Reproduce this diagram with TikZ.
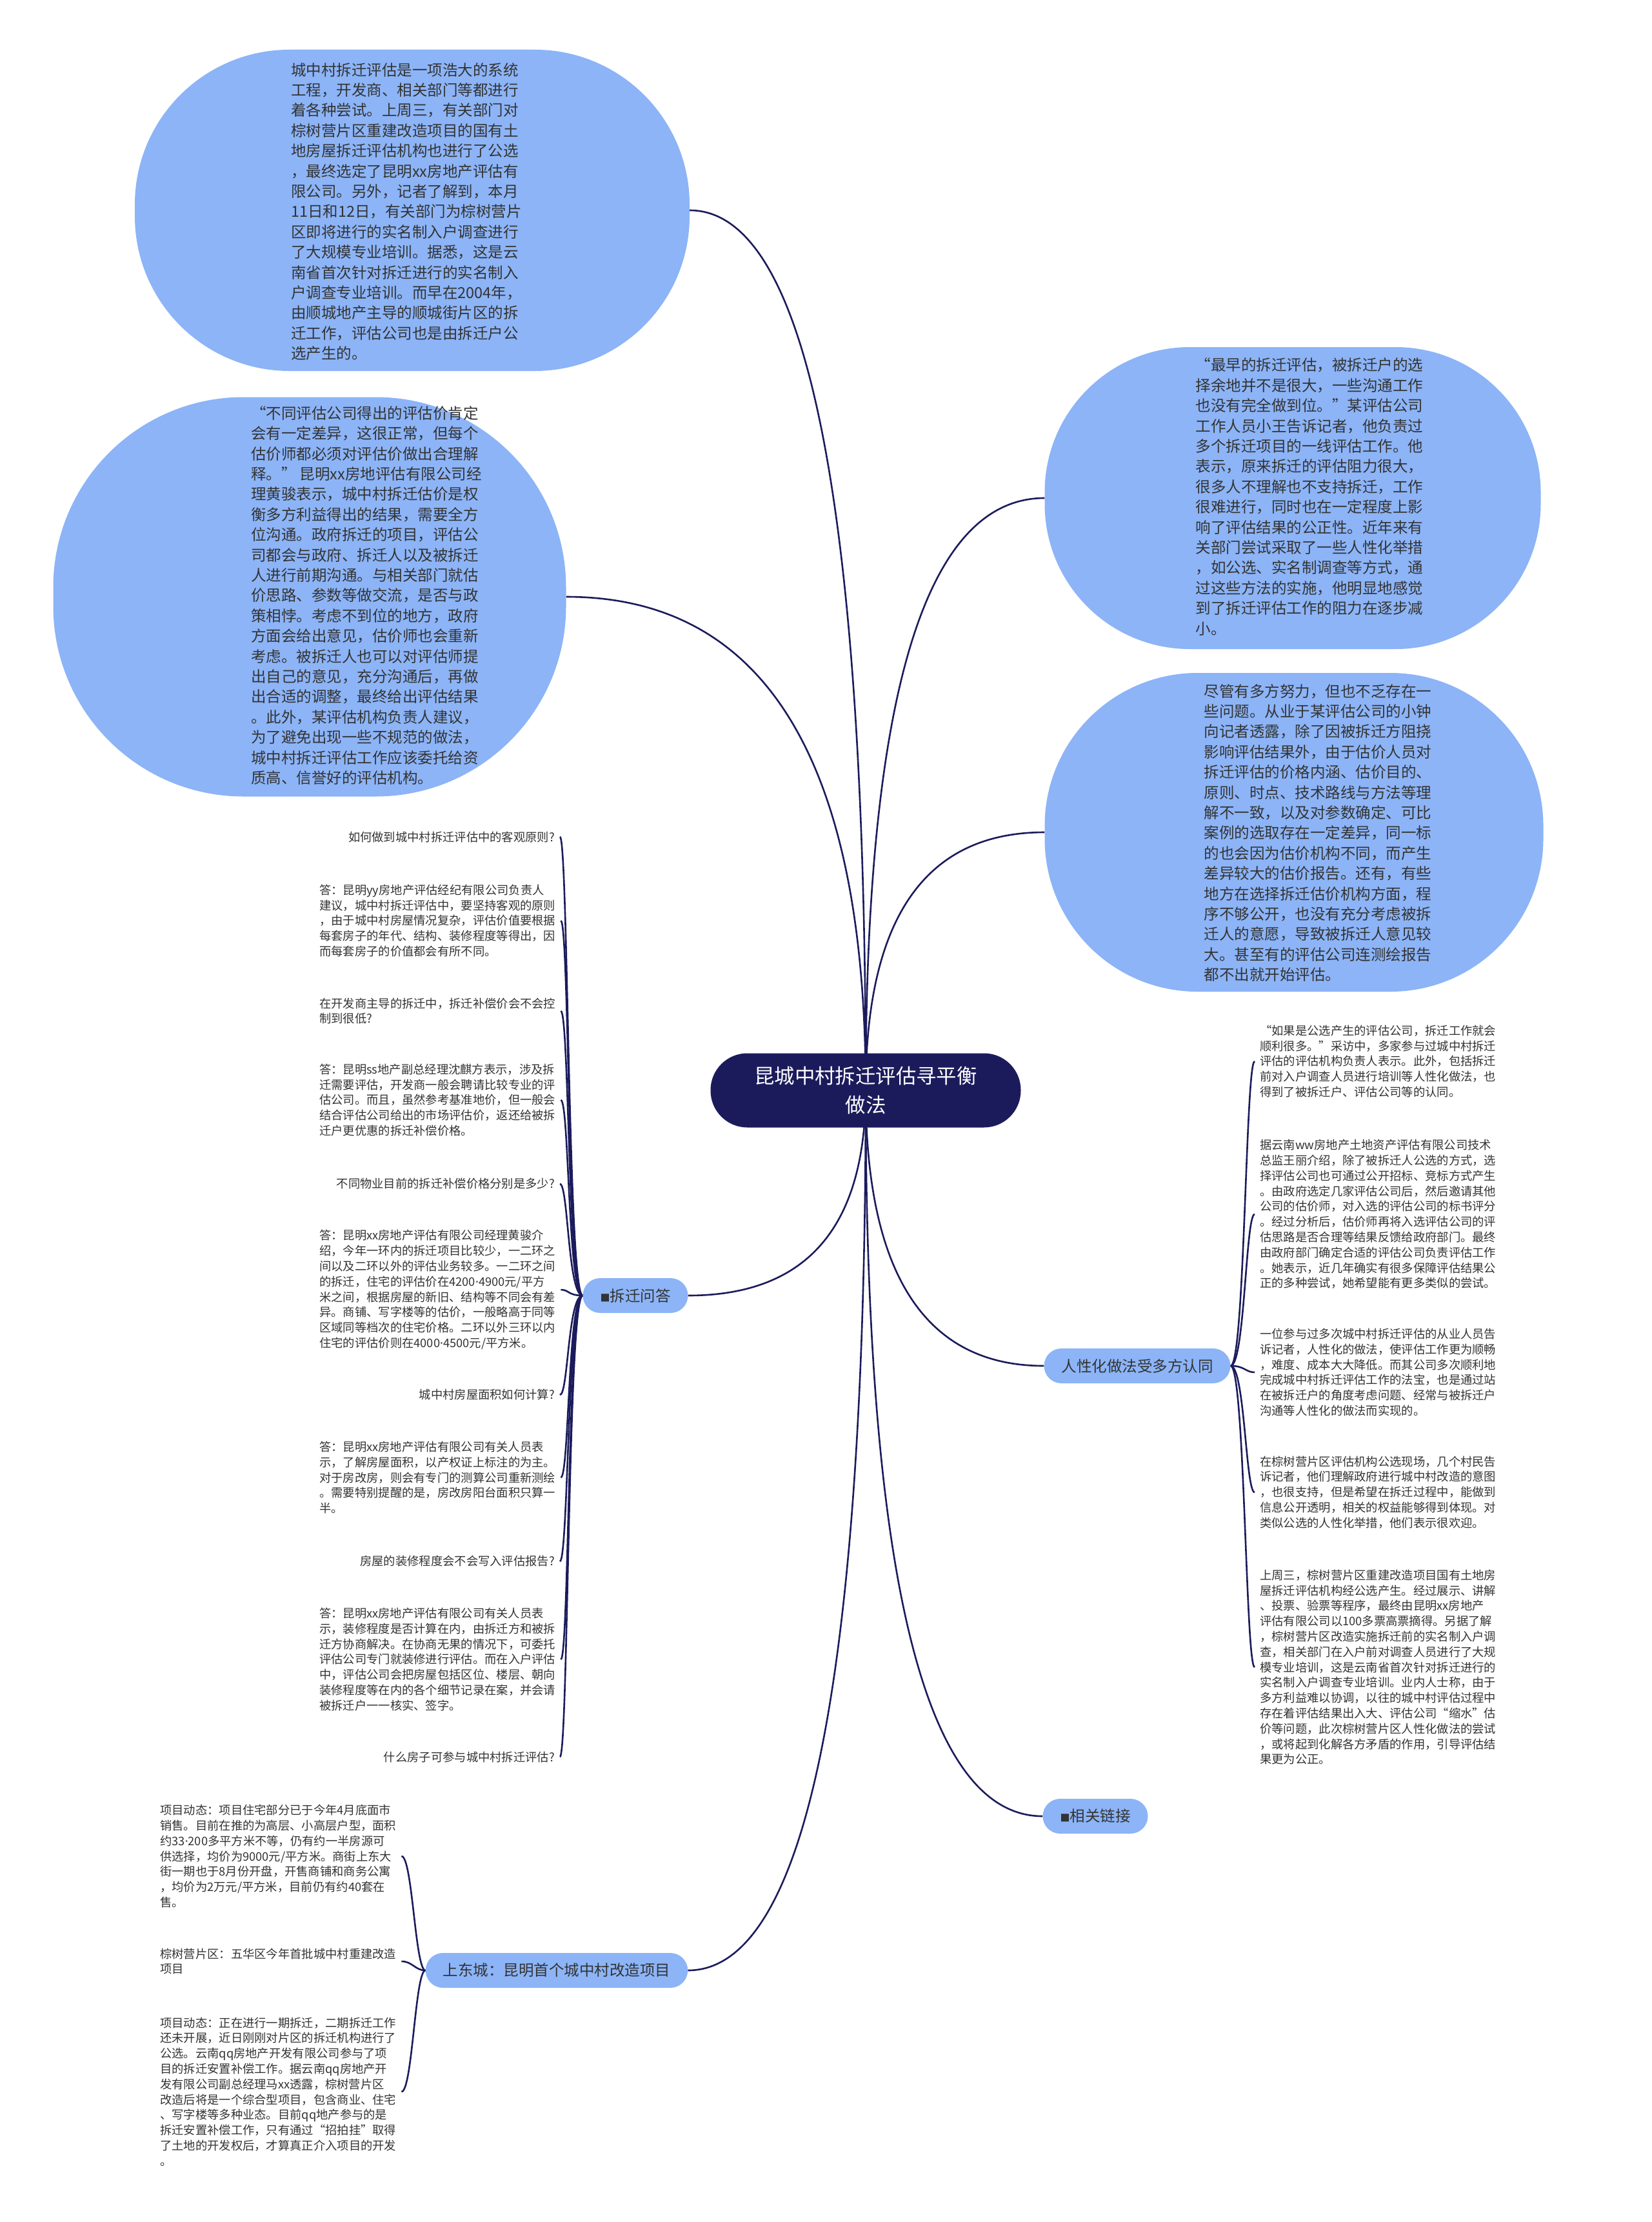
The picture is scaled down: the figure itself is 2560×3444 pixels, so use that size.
\documentclass[tikz,border=0pt]{standalone}
\usepackage{fontspec}
\newfontfamily\cjk{Noto Sans CJK SC}
\newfontfamily\latinf{Noto Sans}
\newcommand{\mdot}{{\latinf ·}}
\newcommand{\bsq}{{\fontsize{15}{28}\selectfont ■}}
\usetikzlibrary{calc}
\definecolor{navy}{RGB}{27,27,92}
\definecolor{lblue}{RGB}{140,180,247}
\definecolor{tgray}{RGB}{51,51,51}
\pgfdeclarelayer{bg}
\pgfsetlayers{bg,main}
\begin{document}
\begin{tikzpicture}[x=1pt,y=-1pt,
  bubble/.style={fill=lblue, inner sep=0pt},
  bigtext/.style={font=\cjk\fontsize{23.5}{31.4}\selectfont, text=tgray, align=left, inner sep=0pt},
  smalltext/.style={font=\cjk\fontsize{18.3}{23.8}\selectfont, text=tgray, align=left, inner xsep=8pt, inner ysep=0pt},
  branch/.style={fill=lblue, rounded corners=27pt, font=\cjk\fontsize{23.5}{28}\selectfont, text=tgray, minimum height=54pt, inner xsep=27pt, inner ysep=0pt},
  rootnode/.style={fill=navy, rounded corners=57pt, text=white, font=\cjk\fontsize{31.4}{45}\selectfont, align=center, minimum width=481pt, minimum height=115pt, inner sep=0pt},
  link/.style={draw=navy, line width=2.6pt},
]
\useasboundingbox (0,0) rectangle (2560,3444);
\begin{pgfonlayer}{bg}
\fill[white] (0,0) rectangle (2560,3444);
\end{pgfonlayer}

% root
\node[rootnode] (root) at (1342,1690) {昆城中村拆迁评估寻平衡\\做法};

% bubbles
\node[bubble, rounded corners=240pt, minimum width=860pt, minimum height=498pt] (tl) at (639,326) {};
\node[bigtext] (tltext) at (630,328) {城中村拆迁评估是一项浩大的系统\\
工程，开发商、相关部门等都进行\\
着各种尝试。上周三，有关部门对\\
棕树营片区重建改造项目的国有土\\
地房屋拆迁评估机构也进行了公选\\
，最终选定了昆明xx房地产评估有\\
限公司。另外，记者了解到，本月\\
11日和12日，有关部门为棕树营片\\
区即将进行的实名制入户调查进行\\
了大规模专业培训。据悉，这是云\\
南省首次针对拆迁进行的实名制入\\
户调查专业培训。而早在2004年，\\
由顺城地产主导的顺城街片区的拆\\
迁工作，评估公司也是由拆迁户公\\
选产生的。};

\node[bubble, rounded corners=295pt, minimum width=795pt, minimum height=619pt] (l2) at (480,925) {};
\node[bigtext] (l2text) at (568,923) {“不同评估公司得出的评估价肯定\\
会有一定差异，这很正常，但每个\\
估价师都必须对评估价做出合理解\\
释。” 昆明xx房地评估有限公司经\\
理黄骏表示，城中村拆迁估价是权\\
衡多方利益得出的结果，需要全方\\
位沟通。政府拆迁的项目，评估公\\
司都会与政府、拆迁人以及被拆迁\\
人进行前期沟通。与相关部门就估\\
价思路、参数等做交流，是否与政\\
策相悖。考虑不到位的地方，政府\\
方面会给出意见，估价师也会重新\\
考虑。被拆迁人也可以对评估师提\\
出自己的意见，充分沟通后，再做\\
出合适的调整，最终给出评估结果\\
。此外，某评估机构负责人建议，\\
为了避免出现一些不规范的做法，\\
城中村拆迁评估工作应该委托给资\\
质高、信誉好的评估机构。};

\node[bubble, rounded corners=225pt, minimum width=769pt, minimum height=468pt] (r1) at (2004,772) {};
\node[bigtext] (r1text) at (2030,770) {“最早的拆迁评估，被拆迁户的选\\
择余地并不是很大，一些沟通工作\\
也没有完全做到位。”某评估公司\\
工作人员小王告诉记者，他负责过\\
多个拆迁项目的一线评估工作。他\\
表示，原来拆迁的评估阻力很大，\\
很多人不理解也不支持拆迁，工作\\
很难进行，同时也在一定程度上影\\
响了评估结果的公正性。近年来有\\
关部门尝试采取了一些人性化举措\\
，如公选、实名制调查等方式，通\\
过这些方法的实施，他明显地感觉\\
到了拆迁评估工作的阻力在逐步减\\
小。};

\node[bubble, rounded corners=237pt, minimum width=773pt, minimum height=494pt] (r2) at (2006,1290) {};
\node[bigtext] (r2text) at (2043,1291) {尽管有多方努力，但也不乏存在一\\
些问题。从业于某评估公司的小钟\\
向记者透露，除了因被拆迁方阻挠\\
影响评估结果外，由于估价人员对\\
拆迁评估的价格内涵、估价目的、\\
原则、时点、技术路线与方法等理\\
解不一致，以及对参数确定、可比\\
案例的选取存在一定差异，同一标\\
的也会因为估价机构不同，而产生\\
差异较大的估价报告。还有，有些\\
地方在选择拆迁估价机构方面，程\\
序不够公开，也没有充分考虑被拆\\
迁人的意愿，导致被拆迁人意见较\\
大。甚至有的评估公司连测绘报告\\
都不出就开始评估。};

% branch nodes
\node[branch] (qa) at (985,2008) {\bsq 拆迁问答};
\node[branch] (hum) at (1763,2117) {人性化做法受多方认同};
\node[branch] (rel) at (1698,2815) {\bsq 相关链接};
\node[branch] (sdc) at (863,3054) {上东城：昆明首个城中村改造项目};

% Q&A children
\node[smalltext, anchor=east] (q1) at (868,1297) {如何做到城中村拆迁评估中的客观原则?};
\node[smalltext, anchor=west] (a1) at (487,1427) {答：昆明yy房地产评估经纪有限公司负责人\\
建议，城中村拆迁评估中，要坚持客观的原则\\
，由于城中村房屋情况复杂，评估价值要根据\\
每套房子的年代、结构、装修程度等得出，因\\
而每套房子的价值都会有所不同。};
\node[smalltext, anchor=west] (q2) at (487,1567) {在开发商主导的拆迁中，拆迁补偿价会不会控\\
制到很低?};
\node[smalltext, anchor=west] (a2) at (487,1705) {答：昆明ss地产副总经理沈麒方表示，涉及拆\\
迁需要评估，开发商一般会聘请比较专业的评\\
估公司。而且，虽然参考基准地价，但一般会\\
结合评估公司给出的市场评估价，返还给被拆\\
迁户更优惠的拆迁补偿价格。};
\node[smalltext, anchor=east] (q3) at (868,1835) {不同物业目前的拆迁补偿价格分别是多少?};
\node[smalltext, anchor=west] (a3) at (487,1999) {答：昆明xx房地产评估有限公司经理黄骏介\\
绍，今年一环内的拆迁项目比较少，一二环之\\
间以及二环以外的评估业务较多。一二环之间\\
的拆迁，住宅的评估价在4200\mdot 4900元/平方\\
米之间，根据房屋的新旧、结构等不同会有差\\
异。商铺、写字楼等的估价，一般略高于同等\\
区域同等档次的住宅价格。二环以外三环以内\\
住宅的评估价则在4000\mdot 4500元/平方米。};
\node[smalltext, anchor=east] (q4) at (868,2162) {城中村房屋面积如何计算?};
\node[smalltext, anchor=west] (a4) at (487,2290) {答：昆明xx房地产评估有限公司有关人员表\\
示，了解房屋面积，以产权证上标注的为主。\\
对于房改房，则会有专门的测算公司重新测绘\\
。需要特别提醒的是，房改房阳台面积只算一\\
半。};
\node[smalltext, anchor=east] (q5) at (868,2420) {房屋的装修程度会不会写入评估报告?};
\node[smalltext, anchor=west] (a5) at (487,2572) {答：昆明xx房地产评估有限公司有关人员表\\
示，装修程度是否计算在内，由拆迁方和被拆\\
迁方协商解决。在协商无果的情况下，可委托\\
评估公司专门就装修进行评估。而在入户评估\\
中，评估公司会把房屋包括区位、楼层、朝向\\
装修程度等在内的各个细节记录在案，并会请\\
被拆迁户一一核实、签字。};
\node[smalltext, anchor=east] (q6) at (868,2723) {什么房子可参与城中村拆迁评估?};

% humanized children
\node[smalltext, anchor=west] (c1) at (1945,1645) {“如果是公选产生的评估公司，拆迁工作就会\\
顺利很多。”采访中，多家参与过城中村拆迁\\
评估的评估机构负责人表示。此外，包括拆迁\\
前对入户调查人员进行培训等人性化做法，也\\
得到了被拆迁户、评估公司等的认同。};
\node[smalltext, anchor=west] (c2) at (1945,1882) {据云南ww房地产土地资产评估有限公司技术\\
总监王丽介绍，除了被拆迁人公选的方式，选\\
择评估公司也可通过公开招标、竞标方式产生\\
。由政府选定几家评估公司后，然后邀请其他\\
公司的估价师，对入选的评估公司的标书评分\\
。经过分析后，估价师再将入选评估公司的评\\
估思路是否合理等结果反馈给政府部门。最终\\
由政府部门确定合适的评估公司负责评估工作\\
。她表示，近几年确实有很多保障评估结果公\\
正的多种尝试，她希望能有更多类似的尝试。};
\node[smalltext, anchor=west] (c3) at (1945,2127) {一位参与过多次城中村拆迁评估的从业人员告\\
诉记者，人性化的做法，使评估工作更为顺畅\\
，难度、成本大大降低。而其公司多次顺利地\\
完成城中村拆迁评估工作的法宝，也是通过站\\
在被拆迁户的角度考虑问题、经常与被拆迁户\\
沟通等人性化的做法而实现的。};
\node[smalltext, anchor=west] (c4) at (1945,2313) {在棕树营片区评估机构公选现场，几个村民告\\
诉记者，他们理解政府进行城中村改造的意图\\
，也很支持，但是希望在拆迁过程中，能做到\\
信息公开透明，相关的权益能够得到体现。对\\
类似公选的人性化举措，他们表示很欢迎。};
\node[smalltext, anchor=west] (c5) at (1945,2584) {上周三，棕树营片区重建改造项目国有土地房\\
屋拆迁评估机构经公选产生。经过展示、讲解\\
、投票、验票等程序，最终由昆明xx房地产\\
评估有限公司以100多票高票摘得。另据了解\\
，棕树营片区改造实施拆迁前的实名制入户调\\
查，相关部门在入户前对调查人员进行了大规\\
模专业培训，这是云南省首次针对拆迁进行的\\
实名制入户调查专业培训。业内人士称，由于\\
多方利益难以协调，以往的城中村评估过程中\\
存在着评估结果出入大、评估公司“缩水”估\\
价等问题，此次棕树营片区人性化做法的尝试\\
，或将起到化解各方矛盾的作用，引导评估结\\
果更为公正。};

% Shangdongcheng children
\node[smalltext, anchor=west] (d1) at (240,2877) {项目动态：项目住宅部分已于今年4月底面市\\
销售。目前在推的为高层、小高层户型，面积\\
约33\mdot 200多平方米不等，仍有约一半房源可\\
供选择，均价为9000元/平方米。商街上东大\\
街一期也于8月份开盘，开售商铺和商务公寓\\
，均价为2万元/平方米，目前仍有约40套在\\
售。};
\node[smalltext, anchor=west] (d2) at (240,3040) {棕树营片区：五华区今年首批城中村重建改造\\
项目};
\node[smalltext, anchor=west] (d3) at (240,3242) {项目动态：正在进行一期拆迁，二期拆迁工作\\
还未开展，近日刚刚对片区的拆迁机构进行了\\
公选。云南qq房地产开发有限公司参与了项\\
目的拆迁安置补偿工作。据云南qq房地产开\\
发有限公司副总经理马xx透露，棕树营片区\\
改造后将是一个综合型项目，包含商业、住宅\\
、写字楼等多种业态。目前qq地产参与的是\\
拆迁安置补偿工作，只有通过“招拍挂”取得\\
了土地的开发权后，才算真正介入项目的开发\\
。};

% connectors
\begin{pgfonlayer}{bg}
\draw[link] (root.center) .. controls +(0,-909) and +(182,0) .. (tl.east);
\draw[link] (root.center) .. controls +(0,-510) and +(309,0) .. (l2.east);
\draw[link] (root.center) .. controls +(0,-612) and +(-185,0) .. (r1.west);
\draw[link] (root.center) .. controls +(0,-267) and +(-185,0) .. (r2.west);
\draw[link] (root.center) .. controls +(0,212) and +(184,0) .. (qa.east);
\draw[link] (root.center) .. controls +(0,285) and +(-184,0) .. (hum.west);
\draw[link] (root.center) .. controls +(0,750) and +(-184,0) .. (rel.west);
\draw[link] (root.center) .. controls +(0,909) and +(184,0) .. (sdc.east);
\foreach \n in {q1,a1,q2,a2,q3,a3,q4,a4,q5,a5,q6}
  \draw[link] (qa.west) .. controls +(-23,0) and +(13,0) .. (\n.east);
\foreach \n in {c1,c2,c3,c4,c5}
  \draw[link] (hum.east) .. controls +(22,0) and +(-14,0) .. (\n.west);
\foreach \n in {d1,d2,d3}
  \draw[link] (sdc.west) .. controls +(-16,0) and +(17,0) .. (\n.east);
\end{pgfonlayer}
\end{tikzpicture}
\end{document}
